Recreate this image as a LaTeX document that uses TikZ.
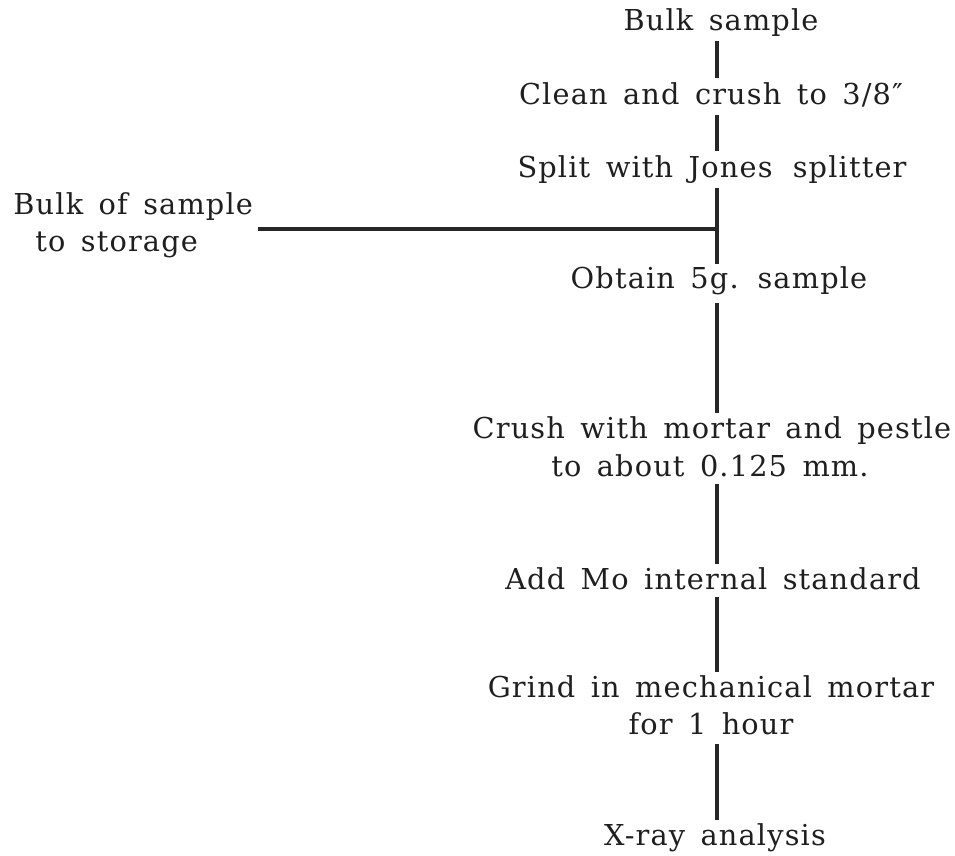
\documentclass[tikz,border=0pt]{standalone}
\usepackage{fontspec}
\setmainfont{DejaVu Serif}[LetterSpace=4,WordSpace=1.5]
\begin{document}
\begin{tikzpicture}[x=0.5pt,y=-0.5pt,
  lbl/.style={inner sep=0pt,anchor=base,text=black!88,font=\fontsize{14.4pt}{17pt}\selectfont,text height=10.5pt,text depth=3pt},
  lblw/.style={lbl,anchor=base west},
  conn/.style={line width=1.7pt,black!85}]
\useasboundingbox (0,0) rectangle (955,856);
\coordinate (spine) at (717,0);
\node[lbl] (bulk)   at (721,31)  {Bulk sample};
\node[lbl] (clean)  at (711,105) {Clean and crush to 3/8″};
\node[lbl] (split)  at (712,178) {Split with Jones\, splitter};
\node[lbl] (obtain) at (719,289) {Obtain 5g. sample};
\node[lbl] (crushA) at (712,438) {Crush with mortar and pestle};
\node[lbl] (crushB) at (710,476) {to about 0.125 mm.};
\node[lbl] (addmo)  at (713,589) {Add Mo internal standard};
\node[lbl] (grindA) at (711,697) {Grind in mechanical mortar};
\node[lbl] (grindB) at (711,734) {for 1 hour};
\node[lbl] (xray)   at (715,845) {X-ray analysis};
\node[lblw] (storeA) at (13,215) {Bulk of sample};
\node[lblw] (storeB) at (35,252) {to storage};
\coordinate (store) at (258,229);
\coordinate (branch) at (717,229);
\draw[conn] ([yshift=-2pt]bulk.south -| spine) -- ([yshift=3pt]clean.north -| spine);
\draw[conn] ([yshift=-2pt]clean.south -| spine) -- ([yshift=3pt]split.north -| spine);
\draw[conn] ([yshift=-2pt]split.south -| spine) -- ([yshift=2pt]obtain.north -| spine);
\draw[conn] ([yshift=-4pt]obtain.south -| spine) -- ([yshift=2pt]crushA.north -| spine);
\draw[conn] ([yshift=-1pt]crushB.south -| spine) -- ([yshift=2pt]addmo.north -| spine);
\draw[conn] ([yshift=-1pt]addmo.south -| spine) -- ([yshift=2pt]grindA.north -| spine);
\draw[conn] ([yshift=-2pt]grindB.south -| spine) -- ([yshift=2pt]xray.north -| spine);
\draw[conn] (store) -- (branch);
\end{tikzpicture}
\end{document}
